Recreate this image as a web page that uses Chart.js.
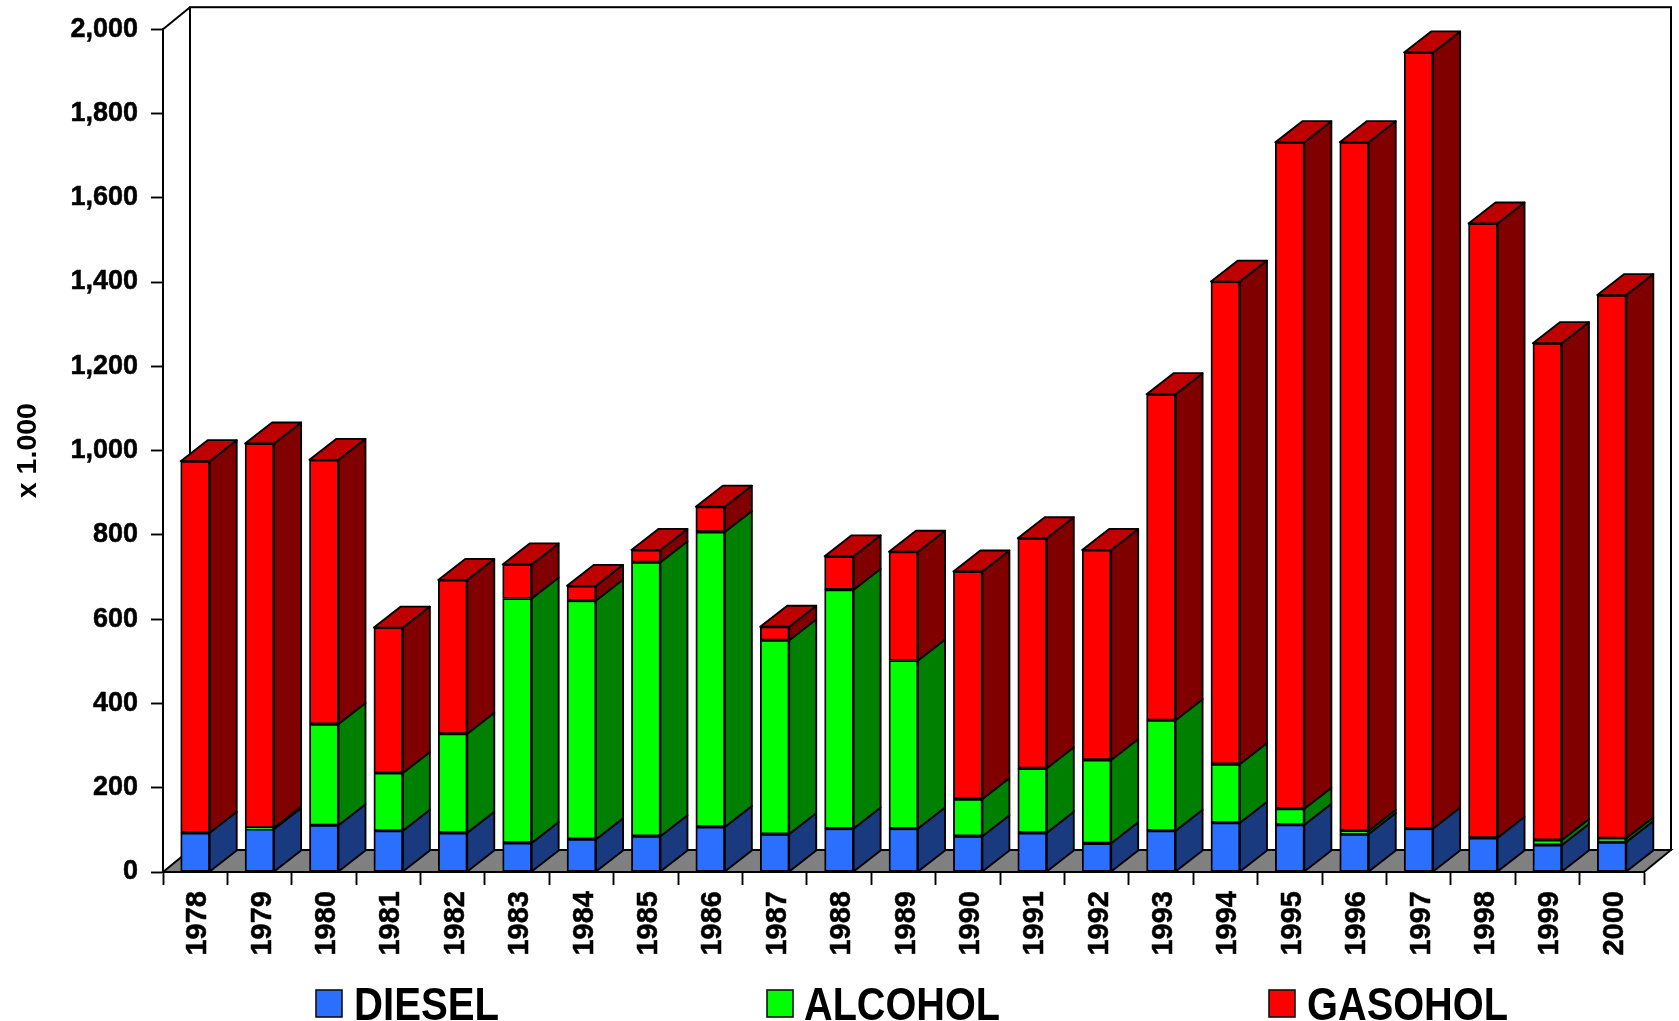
<!DOCTYPE html>
<html>
<head>
<meta charset="utf-8">
<title>x 1.000</title>
<script src="https://cdn.jsdelivr.net/npm/chart.js@4"></script>
<style>
html,body{margin:0;padding:0;background:#fff;}
canvas{display:block;}
</style>
</head>
<body>
<canvas id="fuelChart" width="1679" height="1021"></canvas>
<script>
// --- Data ---
const years = ['1978','1979','1980','1981','1982','1983','1984','1985','1986','1987','1988','1989','1990','1991','1992','1993','1994','1995','1996','1997','1998','1999','2000'];
const diesel  = [93,102,111,98,93,69,78,85,107,90,103,103,85,93,68,98,117,112,90,103,81,64,71];
const alcohol = [0,3,240,137,235,580,566,650,700,460,567,399,88,153,198,262,139,38,8,0,0,12,9];
const gasohol = [882,912,627,345,365,81,35,29,60,32,79,258,540,546,498,774,1145,1582,1634,1842,1458,1179,1289];

// --- Config ---
const FONT = '"Liberation Sans", Arial, sans-serif';
const DEPTH_X = 27, DEPTH_Y = 22, BAR_DEPTH_Y = 21;
const LINE = 1.9;
const frontColors = ['#2b6fff','#00ff00','#ff0000'];
const sideColors = ['#1a3a80','#008000','#800000'];
const topColor = '#bf0000';
const legendPos = [[316,354,145],[767,804,196],[1269,1307,201]]; // swatch x, text x, text width

function face(ctx, pts, fill){
  ctx.beginPath();
  pts.forEach((p,i)=> i? ctx.lineTo(p[0],p[1]) : ctx.moveTo(p[0],p[1]));
  ctx.closePath();
  if(fill){ ctx.fillStyle = fill; ctx.fill(); }
  ctx.stroke();
}

// back wall + floor, drawn behind the bars
const wallPlugin = {
  id:'wall',
  beforeDatasetsDraw(chart){
    const {ctx, chartArea:a} = chart;
    ctx.save();
    ctx.strokeStyle = '#000';
    ctx.lineWidth = LINE;
    face(ctx, [[a.left,a.bottom],[a.left+DEPTH_X,a.bottom-DEPTH_Y],[a.right+DEPTH_X,a.bottom-DEPTH_Y],[a.right,a.bottom]], '#808080');
    ctx.lineWidth = 2;
    ctx.strokeRect(a.left+DEPTH_X, a.top-DEPTH_Y, a.right-a.left, a.bottom-a.top);
    ctx.beginPath();
    ctx.moveTo(a.left,a.top);
    ctx.lineTo(a.left+DEPTH_X,a.top-DEPTH_Y);
    ctx.stroke();
    ctx.restore();
  }
};

// side and top faces of each bar segment
const depthPlugin = {
  id:'depth',
  afterDatasetsDraw(chart){
    const ctx = chart.ctx;
    ctx.save();
    ctx.strokeStyle = '#000';
    ctx.lineWidth = LINE;
    ctx.lineJoin = 'round';
    years.forEach((y,j)=>{
      let last = null;
      chart.data.datasets.forEach((ds,i)=>{
        const bar = chart.getDatasetMeta(i).data[j];
        if(!ds.data[j]) return;
        const r = bar.x + bar.width/2;
        face(ctx, [[r,bar.base],[r+DEPTH_X,bar.base-BAR_DEPTH_Y],[r+DEPTH_X,bar.y-BAR_DEPTH_Y],[r,bar.y]], sideColors[i]);
        last = bar;
      });
      const l = last.x - last.width/2, r = last.x + last.width/2;
      face(ctx, [[l,last.y],[l+DEPTH_X,last.y-BAR_DEPTH_Y],[r+DEPTH_X,last.y-BAR_DEPTH_Y],[r,last.y]], topColor);
    });
    ctx.restore();
  }
};

// legend along the bottom edge
const legendPlugin = {
  id:'bottomLegend',
  afterDraw(chart){
    const ctx = chart.ctx;
    ctx.save();
    chart.data.datasets.forEach((ds,i)=>{
      const p = legendPos[i];
      ctx.fillStyle = ds.backgroundColor;
      ctx.strokeStyle = '#111';
      ctx.lineWidth = 1.6;
      ctx.fillRect(p[0],990,26,27);
      ctx.strokeRect(p[0],990,26,27);
      ctx.fillStyle = '#000';
      ctx.font = 'bold 46px '+FONT;
      ctx.textBaseline = 'alphabetic';
      ctx.fillText(ds.label, p[1], 1020, p[2]);
    });
    ctx.restore();
  }
};

// --- Chart ---
new Chart(document.getElementById('fuelChart').getContext('2d'), {
  type:'bar',
  data:{
    labels: years,
    datasets:[
      {label:'DIESEL', data:diesel, backgroundColor:frontColors[0]},
      {label:'ALCOHOL', data:alcohol, backgroundColor:frontColors[1]},
      {label:'GASOHOL', data:gasohol, backgroundColor:frontColors[2]}
    ]
  },
  options:{
    responsive:false,
    animation:false,
    layout:{padding:{top:28,right:35,left:0,bottom:0}},
    datasets:{bar:{barThickness:29,borderColor:'#000',borderWidth:LINE,borderSkipped:false}},
    plugins:{legend:{display:false},tooltip:{enabled:false}},
    scales:{
      x:{
        stacked:true,
        afterFit:(s)=>{s.height=149;},
        border:{color:'#000',width:2},
        grid:{drawOnChartArea:false,tickColor:'#000',tickWidth:LINE,tickLength:13},
        ticks:{color:'#000',autoSkip:false,minRotation:90,maxRotation:90,padding:6,labelOffset:3,textStrokeColor:'#000',textStrokeWidth:0.5,font:{family:FONT,size:29,weight:'bold'}}
      },
      y:{
        stacked:true,
        min:0,
        max:2000,
        afterFit:(s)=>{s.width=163;},
        border:{color:'#000',width:2},
        grid:{drawOnChartArea:false,tickColor:'#000',tickWidth:LINE,tickLength:12},
        ticks:{color:'#000',stepSize:200,padding:13,textStrokeColor:'#000',textStrokeWidth:0.5,callback:(v)=>v.toLocaleString('en-US'),font:{family:FONT,size:27,weight:'bold'}},
        title:{display:true,text:'x 1.000',color:'#000',padding:{top:11,bottom:0},font:{family:FONT,size:28.5,weight:'bold'}}
      }
    }
  },
  plugins:[wallPlugin,depthPlugin,legendPlugin]
});
</script>
</body>
</html>
